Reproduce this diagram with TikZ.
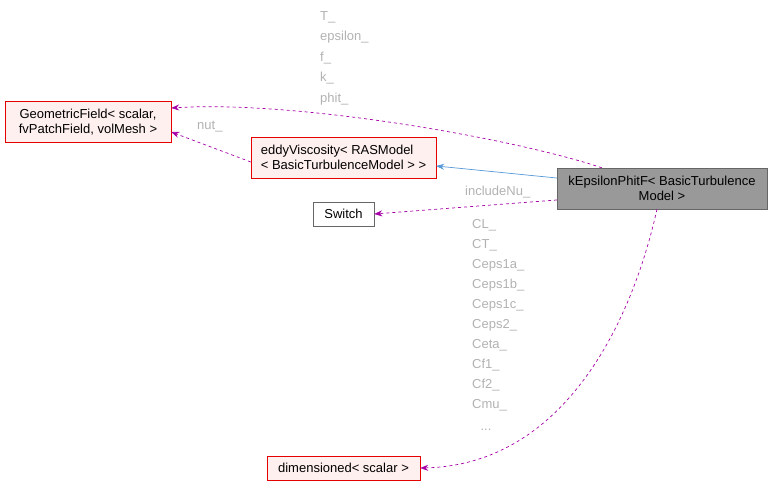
\documentclass[tikz,border=0pt]{standalone}
\usepackage{fontspec}
\setmainfont{Liberation Sans}
\usetikzlibrary{arrows.meta}
\begin{document}
\begin{tikzpicture}[x=1pt,y=-1pt,
 box/.style={draw=red!90!black,fill=red!6,inner sep=0pt,align=center,font=\fontsize{13}{15}\selectfont},
 dep/.style={draw=violet!70!magenta,dashed,-{Stealth[length=8pt,width=6pt]},line width=0.7pt},
 inh/.style={draw=cyan!60!blue!70,-{Stealth[length=8pt,width=6pt]},line width=0.7pt},
 lab/.style={text=black!30,font=\fontsize{13}{15}\selectfont,inner sep=0pt}]
\useasboundingbox (0,0) rectangle (773,486);
\node[box,minimum width=166,minimum height=41] (gf) at (88,122) {GeometricField< scalar,\\fvPatchField, volMesh >};
\node[box,align=left,minimum width=185,minimum height=41] (ed) at (343.5,157.5) {eddyViscosity< RASModel\\< BasicTurbulenceModel > >};
\node[box,draw=black!60,fill=black!40,minimum width=210,minimum height=41] (ke) at (662,188.5) {kEpsilonPhitF< BasicTurbulence\\Model >};
\node[box,draw=black!60,fill=white,minimum width=61,minimum height=24] (sw) at (343.5,214) {Switch};
\node[box,minimum width=153,minimum height=24] (dm) at (343.5,468) {dimensioned< scalar >};
\draw[dep] (ke.north west)++(45,0) .. controls (520,140) and (300,100) .. (gf.east |- 0,108);
\draw[dep] (ed.west |- 0,162) -- (gf.east |- 0,132);
\draw[inh] (ke.west |- 0,178) -- (ed.east |- 0,166);
\draw[dep] (ke.west |- 0,200) -- (sw.east);
\draw[dep] (ke.south) ++(-5,0) .. controls (630,330) and (560,465) .. (dm.east);
\foreach \t [count=\i] in {T\_,epsilon\_,f\_,k\_,phit\_}
  \node[lab,anchor=west] at (320,{-3.5+20.5*\i}) {\t};
\node[lab,anchor=west] at (197,127) {nut\_};
\node[lab,anchor=west] at (465,192) {includeNu\_};
\foreach \t [count=\i] in {CL\_,CT\_,Ceps1a\_,Ceps1b\_,Ceps1c\_,Ceps2\_,Ceta\_,Cf1\_,Cf2\_,Cmu\_}
  \node[lab,anchor=west] at (472,{205+20*\i}) {\t};
\node[lab] at (486,430) {...};
\end{tikzpicture}
\end{document}
